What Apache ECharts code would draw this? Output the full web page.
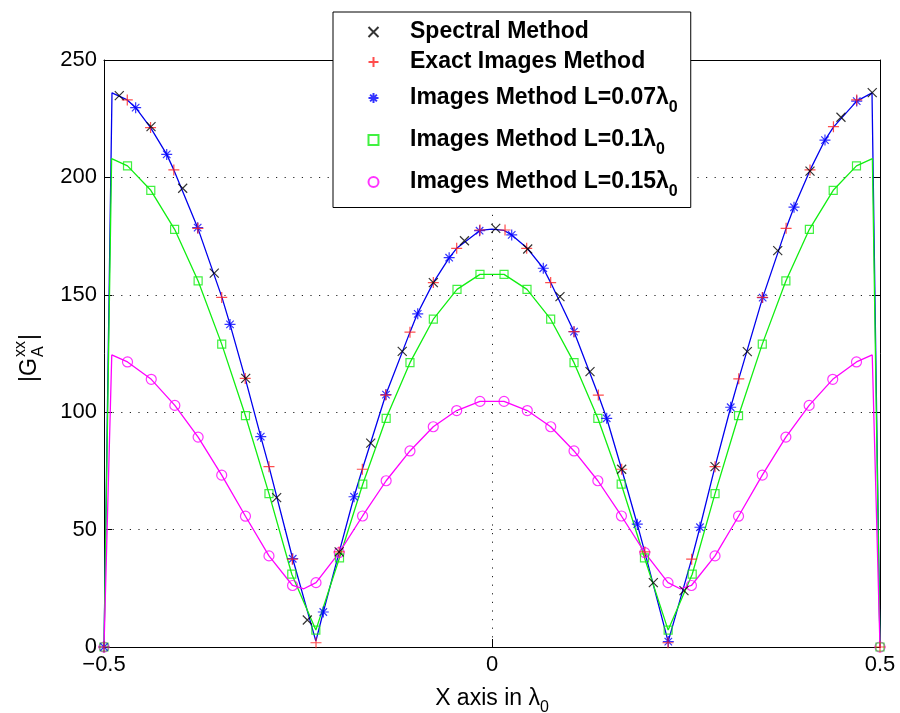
<!DOCTYPE html>
<html>
<head>
<meta charset="utf-8">
<script src="https://cdn.jsdelivr.net/npm/echarts@6/dist/echarts.min.js"></script>
<style>
  html, body { margin: 0; padding: 0; background: #fff; }
  #chart { width: 900px; height: 713px; }
</style>
</head>
<body>
<div id="chart"></div>
<script>
// x in lambda0, y = |G_A^xx|
const spectral = [
  [-0.4803, 234.8], [-0.4394, 221.6], [-0.3986, 195.4], [-0.3579, 159.2], [-0.3174, 114.4],
  [-0.2775, 63.6], [-0.238, 11.5], [-0.197, 40.5], [-0.1563, 86.8], [-0.1157, 125.9],
  [-0.0756, 155.2], [-0.0355, 173.0], [0.0048, 178.3], [0.046, 169.5], [0.0876, 149.2],
  [0.1263, 117.3], [0.1671, 75.7], [0.2079, 27.4], [0.2474, 24.0], [0.2874, 76.8],
  [0.329, 125.8], [0.3682, 168.8], [0.4098, 202.7], [0.4497, 225.6], [0.490, 236.1]
];

const exactImages = [
  [-0.5, 0], [-0.47, 233.0], [-0.44, 221.2], [-0.41, 203.2], [-0.379, 178.3], [-0.3483, 148.9],
  [-0.318, 114.4], [-0.2874, 76.8], [-0.2573, 37.4], [-0.2268, 1.8], [-0.197, 40.5],
  [-0.1671, 75.7], [-0.137, 107.3], [-0.1057, 134.1], [-0.0756, 155.2], [-0.0455, 169.8],
  [-0.0155, 177.6], [0.0168, 177.6], [0.0447, 169.8], [0.0756, 155.2], [0.1057, 134.3],
  [0.137, 107.3], [0.1671, 75.7], [0.197, 40.5], [0.2268, 1.8], [0.2573, 37.4], [0.2874, 76.8],
  [0.318, 114.2], [0.3483, 148.9], [0.379, 178.3], [0.4098, 203.2], [0.44, 221.6], [0.47, 233.0],
  [0.5, 0]
];

const marks007 = [
  [-0.5, 0], [-0.4592, 229.7], [-0.4192, 209.8], [-0.3793, 178.6], [-0.3376, 137.4], [-0.298, 89.6],
  [-0.2568, 37.6], [-0.2174, 14.9], [-0.1778, 64.0], [-0.1366, 107.5], [-0.0957, 141.9],
  [-0.0552, 165.8], [-0.016, 177.3], [0.0254, 175.5], [0.0661, 161.3], [0.1057, 134.3],
  [0.1478, 97.4], [0.1872, 52.3], [0.2272, 2.3], [0.268, 51.0], [0.3076, 102.1], [0.3488, 148.8],
  [0.3892, 187.3], [0.4291, 215.9], [0.47, 232.5]
];
const curve007 = [
  [-0.5, 0], [-0.4897, 236], [-0.47, 233.0], [-0.4592, 229.7], [-0.44, 221.2], [-0.4192, 209.8],
  [-0.41, 203.2], [-0.3793, 178.6], [-0.348, 148.9], [-0.3376, 137.4], [-0.318, 114.4],
  [-0.298, 89.6], [-0.2874, 76.8], [-0.2568, 37.6], [-0.227, 2.5], [-0.2174, 14.9], [-0.197, 40.3],
  [-0.1778, 64.0], [-0.1671, 75.7], [-0.137, 107.3], [-0.1057, 134.1], [-0.0963, 141.8],
  [-0.0756, 155.2], [-0.055, 165.8], [-0.0455, 169.8], [-0.0155, 177.4], [0, 178],
  [0.0155, 177.4], [0.0254, 175.5], [0.0455, 169.8], [0.0661, 161.3], [0.0756, 155.2],
  [0.1057, 134.3], [0.137, 107.3], [0.1478, 97.4], [0.1671, 75.7], [0.1872, 52.3], [0.197, 40.3],
  [0.227, 2.3], [0.2573, 37.4], [0.268, 51.0], [0.2874, 76.8], [0.3076, 102.1], [0.318, 114.2],
  [0.3488, 148.8], [0.379, 178.3], [0.3892, 187.3], [0.41, 203.2], [0.4291, 215.9], [0.44, 221.4],
  [0.47, 232.5], [0.4897, 236], [0.5, 0]
];

const marks01 = [
  [-0.5, 0], [-0.4697, 204.9], [-0.4397, 194.5], [-0.409, 177.9], [-0.3787, 155.9], [-0.3483, 129.0],
  [-0.3177, 98.5], [-0.2874, 65.3], [-0.258, 31.0], [-0.227, 7.2], [-0.1965, 38.0], [-0.1665, 69.4],
  [-0.1364, 97.4], [-0.1057, 121.1], [-0.0756, 139.6], [-0.0451, 152.3], [-0.0155, 158.7],
  [0.0155, 158.7], [0.0451, 152.3], [0.0756, 139.6], [0.1057, 121.1], [0.1364, 97.4],
  [0.1665, 69.4], [0.1965, 38.0], [0.227, 7.2], [0.258, 31.0], [0.2874, 65.3], [0.3177, 98.5],
  [0.3483, 129.0], [0.3787, 155.9], [0.409, 177.9], [0.4397, 194.5], [0.4697, 204.9], [0.5, 0]
];
const corners01 = [[-0.4902, 208.0], [0.4902, 208.0]];

const marks015 = [
  [-0.5, 0], [-0.4697, 121.4], [-0.4391, 114.0], [-0.4087, 102.9], [-0.3787, 89.4], [-0.3483, 73.2],
  [-0.3177, 55.7], [-0.2874, 38.8], [-0.257, 26.2], [-0.2268, 27.4], [-0.1969, 40.2], [-0.1668, 55.8],
  [-0.1364, 70.8], [-0.1057, 83.5], [-0.0757, 93.8], [-0.0455, 100.7], [-0.0155, 104.6],
  [0.0155, 104.6], [0.0455, 100.7], [0.0757, 93.8], [0.1057, 83.5], [0.1364, 70.8], [0.1668, 55.8],
  [0.1969, 40.2], [0.2268, 27.4], [0.257, 26.2], [0.2874, 38.8], [0.3177, 55.7], [0.3483, 73.2],
  [0.3787, 89.4], [0.4087, 102.9], [0.4391, 114.0], [0.4697, 121.4], [0.5, 0]
];
const corners015 = [[-0.490, 124.4], [-0.2425, 24.8], [0.2425, 24.8], [0.490, 124.4]];

const xTicks = { min: -0.5, max: 0.5, step: 0.5 };
const yTicks = { min: 0, max: 250, step: 50 };

const seriesNames = [
  'Spectral Method',
  'Exact Images Method',
  'Images Method L=0.07',
  'Images Method L=0.1',
  'Images Method L=0.15'
];

const FONT = 'Liberation Sans';
const CROSS = 'path://M0,0L10,10M10,0L0,10';
const PLUS = 'path://M5,0L5,10M0,5L10,5';
const STAR = 'path://M5,0L5,10M0,5L10,5M1.6,1.6L8.4,8.4M8.4,1.6L1.6,8.4';

function byX(a, b) { return a[0] - b[0]; }

const chart = echarts.init(document.getElementById('chart'), null, { renderer: 'canvas' });

const dotted = { color: '#222', width: 1, type: [1.2, 7.4] };
const minus = v => String(v).replace('-', '\u2212');

function markerSeries(name, data, symbol, size, color) {
  return {
    name, type: 'scatter', data, symbol, symbolSize: size, z: 4,
    itemStyle: { color: 'transparent', borderColor: color, borderWidth: 1.2 }
  };
}
function curveSeries(data, color) {
  return {
    name: '_' + color, type: 'line', data, showSymbol: false, symbol: 'none', z: 3,
    silent: true, lineStyle: { color, width: 1.3 }
  };
}

chart.setOption({
  animation: false,
  backgroundColor: '#fff',
  textStyle: { fontFamily: FONT },
  grid: { left: 104, right: 20, top: 60, bottom: 66, containLabel: false, outerBoundsMode: 'none' },
  legend: {
    data: seriesNames,
    orient: 'vertical',
    left: 333,
    top: 12,
    padding: [8.5, 13, 8, 34.5],
    itemWidth: 10,
    itemHeight: 10,
    itemGap: 7,
    backgroundColor: '#fff',
    borderColor: '#000',
    borderWidth: 1,
    selectedMode: false,
    formatter: name => name.indexOf('L=') > 0 ? '{t|' + name + 'λ}{s|0}' : '{t|' + name + '}',
    textStyle: {
      padding: [0, 0, 0, 26.5],
      rich: {
        t: { fontFamily: FONT, fontSize: 23, fontWeight: 'bold', color: '#000', verticalAlign: 'middle' },
        s: { fontFamily: FONT, fontSize: 16, fontWeight: 'bold', color: '#000', lineHeight: 16, padding: [19, 0, 0, 0], verticalAlign: 'middle' }
      }
    }
  },
  xAxis: [{
    type: 'value', position: 'bottom',
    min: xTicks.min, max: xTicks.max, interval: xTicks.step,
    name: '{t|X axis in λ}{s|0}',
    nameLocation: 'middle', nameGap: 29,
    nameTextStyle: {
      rich: {
        t: { fontFamily: FONT, fontSize: 23, color: '#000', verticalAlign: 'middle' },
        s: { fontFamily: FONT, fontSize: 16, color: '#000', lineHeight: 16, padding: [19, 0, 0, 0], verticalAlign: 'middle' }
      }
    },
    axisLine: { onZero: false, lineStyle: { color: '#000', width: 1 } },
    axisTick: { inside: true, length: 8, lineStyle: { color: '#000' } },
    axisLabel: { fontSize: 22, color: '#000', margin: 7, formatter: minus },
    splitLine: { show: true, lineStyle: dotted }
  }, {
    type: 'value', position: 'top',
    min: xTicks.min, max: xTicks.max, interval: xTicks.step,
    axisLine: { onZero: false, lineStyle: { color: '#000', width: 1 } },
    axisTick: { inside: true, length: 8, lineStyle: { color: '#000' } },
    axisLabel: { show: false },
    splitLine: { show: false }
  }],
  yAxis: [{
    type: 'value', position: 'left',
    min: yTicks.min, max: yTicks.max, interval: yTicks.step,
    axisLine: { show: true, onZero: false, lineStyle: { color: '#000', width: 1 } },
    axisTick: { show: true, inside: true, length: 8, lineStyle: { color: '#000' } },
    axisLabel: { fontSize: 22, color: '#000', margin: 7 },
    splitLine: { show: true, lineStyle: dotted }
  }, {
    type: 'value', position: 'right',
    min: yTicks.min, max: yTicks.max, interval: yTicks.step,
    axisLine: { show: true, onZero: false, lineStyle: { color: '#000', width: 1 } },
    axisTick: { show: true, inside: true, length: 8, lineStyle: { color: '#000' } },
    axisLabel: { show: false },
    splitLine: { show: false }
  }],
  graphic: [{
    type: 'group', x: 30, y: 356, rotation: Math.PI / 2,
    children: [
      { type: 'text', x: -26, y: 0, style: { text: '|G', font: '23px ' + FONT, fill: '#000', verticalAlign: 'middle', align: 'left' } },
      { type: 'text', x: -1, y: -9, style: { text: 'xx', font: '16px ' + FONT, fill: '#000', verticalAlign: 'middle', align: 'left' } },
      { type: 'text', x: -1, y: 9, style: { text: 'A', font: '16px ' + FONT, fill: '#000', verticalAlign: 'middle', align: 'left' } },
      { type: 'text', x: 16, y: 0, style: { text: '|', font: '23px ' + FONT, fill: '#000', verticalAlign: 'middle', align: 'left' } }
    ]
  }],
  series: [
    curveSeries(curve007, '#0000ee'),
    curveSeries(marks01.concat(corners01).sort(byX), '#11ee11'),
    curveSeries(marks015.concat(corners015).sort(byX), '#ff00ff'),
    markerSeries(seriesNames[4], marks015, 'circle', 10, '#ff00ff'),
    markerSeries(seriesNames[3], marks01, 'rect', 8, '#11ee11'),
    markerSeries(seriesNames[2], marks007, STAR, 11, '#0000ff'),
    markerSeries(seriesNames[1], exactImages, PLUS, 11, '#ff2020'),
    markerSeries(seriesNames[0], spectral, CROSS, 9, '#000')
  ]
});
</script>
</body>
</html>
